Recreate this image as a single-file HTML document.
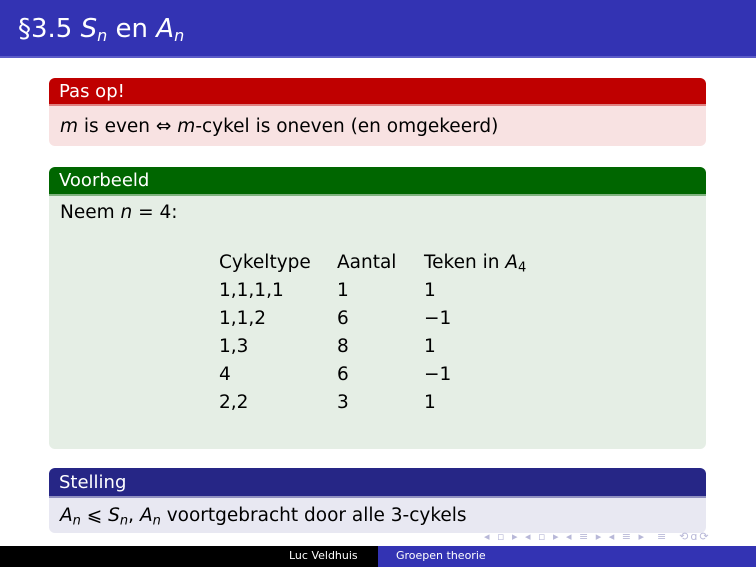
<!DOCTYPE html>
<html><head><meta charset="utf-8"><style>
body{margin:0;width:756px;height:567px;position:relative;background:#fff;font-family:"DejaVu Sans","Liberation Sans",sans-serif;overflow:hidden;color:#000}
.a{position:absolute;white-space:nowrap}
i{font-style:italic}
sub{line-height:0;vertical-align:-0.25em}
.hdr{left:0;top:0;width:756px;height:56px;background:#3333b3;border-bottom:2px solid #5c5cc8}
.t{font-size:18px;color:#fff;padding-left:10px;line-height:26px}
.b{font-size:18.5px}
</style></head><body>
<div class="a hdr"></div>
<div class="a" style="left:18px;top:14px;font-size:26px;color:#fff">§3.5 <i>S<sub style="font-size:16px">n</sub></i> en <i>A<sub style="font-size:16px">n</sub></i></div>

<div class="a" style="left:49px;top:78px;width:657px;height:26px;background:#bf0000;border-radius:6px 6px 0 0"></div>
<div class="a t" style="left:49px;top:79px">Pas op!</div>
<div class="a" style="left:49px;top:104px;width:657px;height:42px;background:#f8e2e2;border-radius:0 0 6px 6px;border-top:2px solid #e08080;box-sizing:border-box"></div>
<div class="a b" style="left:60px;top:116px"><i>m</i> is even ⇔ <i>m</i>-cykel is oneven (en omgekeerd)</div>

<div class="a" style="left:49px;top:167px;width:657px;height:27px;background:#006600;border-radius:6px 6px 0 0"></div>
<div class="a t" style="left:49px;top:168px">Voorbeeld</div>
<div class="a" style="left:49px;top:194px;width:657px;height:255px;background:#e5eee5;border-radius:0 0 6px 6px;border-top:2px solid #80b380;box-sizing:border-box"></div>
<div class="a b" style="left:60px;top:202px">Neem <i>n</i> = 4:</div>
<div class="a b" style="left:219px;top:249px;line-height:28px">Cykeltype<br>1,1,1,1<br>1,1,2<br>1,3<br>4<br>2,2</div>
<div class="a b" style="left:337px;top:249px;line-height:28px">Aantal<br>1<br>6<br>8<br>6<br>3</div>
<div class="a b" style="left:424px;top:249px;line-height:28px">Teken in <i>A</i><sub style="font-size:13px">4</sub><br>1<br>−1<br>1<br>−1<br>1</div>

<div class="a" style="left:49px;top:468px;width:657px;height:28px;background:#262686;border-radius:6px 6px 0 0"></div>
<div class="a t" style="left:49px;top:470px">Stelling</div>
<div class="a" style="left:49px;top:496px;width:657px;height:37px;background:#e8e8f2;border-radius:0 0 6px 6px;border-top:2px solid #9090c0;box-sizing:border-box"></div>
<div class="a b" style="left:60px;top:505px"><i>A<sub style="font-size:13px">n</sub></i> ⩽ <i>S<sub style="font-size:13px">n</sub></i>, <i>A<sub style="font-size:13px">n</sub></i> voortgebracht door alle 3-cykels</div>
<div class="a" style="left:484px;top:530px;font-size:11px;color:#b8b8d8;letter-spacing:2px">◂ ▫ ▸ ◂ ▫ ▸ ◂ ≡ ▸ ◂ ≡ ▸ &nbsp;≡ &nbsp;⟲ɑ⟳</div>

<div class="a" style="left:0;top:546px;width:378px;height:21px;background:#000"></div>
<div class="a" style="left:378px;top:546px;width:378px;height:21px;background:#3333b3"></div>
<div class="a" style="left:289px;top:549px;font-size:11px;color:#fff">Luc Veldhuis</div>
<div class="a" style="left:396px;top:549px;font-size:11px;color:#fff">Groepen theorie</div>
</body></html>
